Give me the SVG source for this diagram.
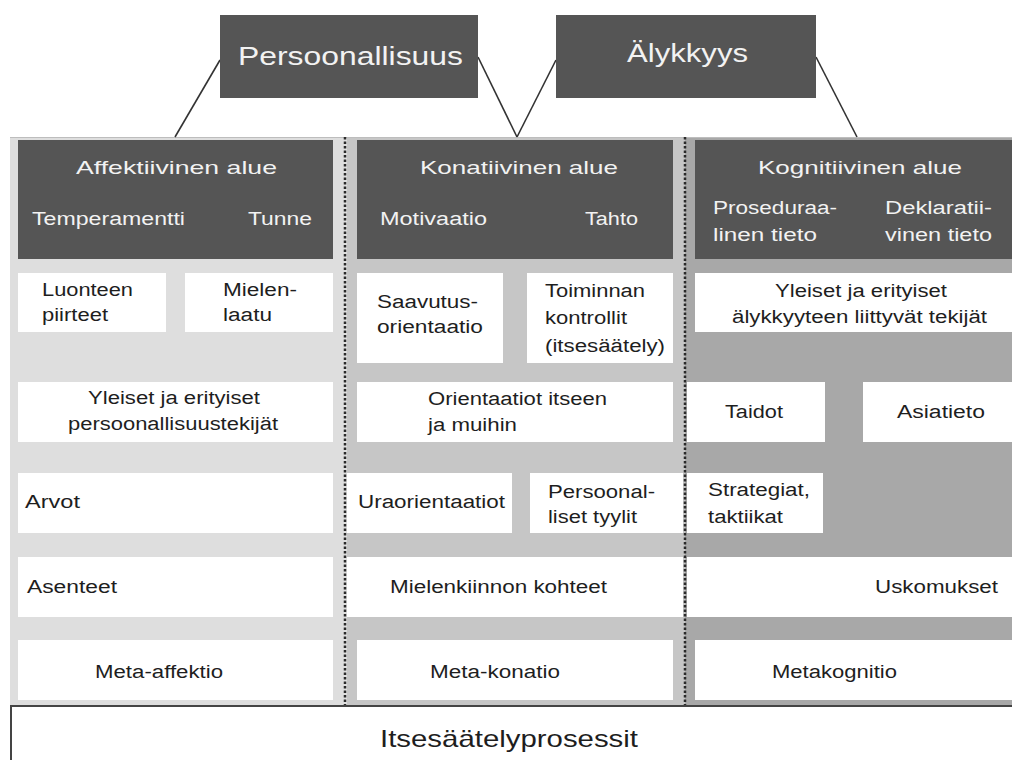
<svg xmlns="http://www.w3.org/2000/svg" width="1012" height="760" viewBox="0 0 1012 760">
<style>
.dark{fill:#555555}
.box{fill:#ffffff}
.ht{font-family:"Liberation Sans",Arial,sans-serif;font-size:19px;fill:#f2f2f2}
.st{font-family:"Liberation Sans",Arial,sans-serif;font-size:18px;fill:#f2f2f2}
.top{font-family:"Liberation Sans",Arial,sans-serif;font-size:25px;fill:#f2f2f2}
.t{font-family:"Liberation Sans",Arial,sans-serif;font-size:18px;fill:#1e1e1e}
.big{font-family:"Liberation Sans",Arial,sans-serif;font-size:24px;fill:#1e1e1e}
.dot{stroke:#2a2a2a;stroke-width:2.5;stroke-dasharray:2.5 2;fill:none}
.con{stroke:#333333;stroke-width:1.6;fill:none}
</style>
<rect x="0" y="0" width="1012" height="760" fill="#ffffff"/>
<g id="background">
<rect x="10" y="137" width="337" height="570" fill="#dedede"/>
<rect x="347" y="137" width="338" height="570" fill="#c6c6c6"/>
<rect x="685" y="137" width="327" height="570" fill="#a8a8a8"/>
<line x1="10" y1="137.5" x2="1012" y2="137.5" stroke="#bdbdbd" stroke-width="1"/>
<line class="dot" x1="345" y1="137" x2="345" y2="706"/>
<line class="dot" x1="685" y1="137" x2="685" y2="706"/>
</g>
<g id="connectors">
<line class="con" x1="220" y1="60" x2="175" y2="137"/>
<line class="con" x1="478" y1="57" x2="517" y2="137"/>
<line class="con" x1="556" y1="60" x2="517" y2="137"/>
<line class="con" x1="816" y1="57" x2="857" y2="137"/>
</g>
<g id="persoonallisuus">
<rect class="dark" x="220" y="15" width="258" height="83"/>
<text class="top" x="238" y="65" textLength="225" lengthAdjust="spacingAndGlyphs">Persoonallisuus</text>
</g>
<g id="alykkyys">
<rect class="dark" x="556" y="15" width="260" height="83"/>
<text class="top" x="627" y="62" textLength="121" lengthAdjust="spacingAndGlyphs">Älykkyys</text>
</g>
<g id="affektiivinen">
<rect class="dark" x="18" y="140" width="315" height="119"/>
<text class="ht" x="76" y="174" textLength="201" lengthAdjust="spacingAndGlyphs">Affektiivinen alue</text>
<text class="st" x="32" y="225" textLength="153" lengthAdjust="spacingAndGlyphs">Temperamentti</text>
<text class="st" x="248" y="225" textLength="64" lengthAdjust="spacingAndGlyphs">Tunne</text>
</g>
<g id="konatiivinen">
<rect class="dark" x="357" y="140" width="316" height="119"/>
<text class="ht" x="420" y="174" textLength="198" lengthAdjust="spacingAndGlyphs">Konatiivinen alue</text>
<text class="st" x="380" y="225" textLength="107" lengthAdjust="spacingAndGlyphs">Motivaatio</text>
<text class="st" x="585" y="225" textLength="53" lengthAdjust="spacingAndGlyphs">Tahto</text>
</g>
<g id="kognitiivinen">
<rect class="dark" x="695" y="140" width="317" height="119"/>
<text class="ht" x="758" y="174" textLength="204" lengthAdjust="spacingAndGlyphs">Kognitiivinen alue</text>
<text class="st" x="713" y="214" textLength="124" lengthAdjust="spacingAndGlyphs">Proseduraa-</text>
<text class="st" x="713" y="241" textLength="104" lengthAdjust="spacingAndGlyphs">linen tieto</text>
<text class="st" x="885" y="214" textLength="107" lengthAdjust="spacingAndGlyphs">Deklaratii-</text>
<text class="st" x="885" y="241" textLength="107" lengthAdjust="spacingAndGlyphs">vinen tieto</text>
</g>
<g id="luonteen-piirteet">
<rect class="box" x="18" y="273" width="148" height="59"/>
<text class="t" x="42" y="296" textLength="91" lengthAdjust="spacingAndGlyphs">Luonteen</text>
<text class="t" x="42" y="321" textLength="66" lengthAdjust="spacingAndGlyphs">piirteet</text>
</g>
<g id="mielenlaatu">
<rect class="box" x="185" y="273" width="148" height="59"/>
<text class="t" x="223" y="296" textLength="74" lengthAdjust="spacingAndGlyphs">Mielen-</text>
<text class="t" x="223" y="321" textLength="49" lengthAdjust="spacingAndGlyphs">laatu</text>
</g>
<g id="saavutusorientaatio">
<rect class="box" x="357" y="273" width="146" height="90"/>
<text class="t" x="377" y="308" textLength="101" lengthAdjust="spacingAndGlyphs">Saavutus-</text>
<text class="t" x="377" y="333" textLength="106" lengthAdjust="spacingAndGlyphs">orientaatio</text>
</g>
<g id="toiminnan-kontrollit">
<rect class="box" x="527" y="273" width="146" height="90"/>
<text class="t" x="545" y="297" textLength="100" lengthAdjust="spacingAndGlyphs">Toiminnan</text>
<text class="t" x="545" y="324" textLength="82" lengthAdjust="spacingAndGlyphs">kontrollit</text>
<text class="t" x="545" y="352" textLength="120" lengthAdjust="spacingAndGlyphs">(itsesäätely)</text>
</g>
<g id="alykkyystekijat">
<rect class="box" x="695" y="273" width="317" height="59"/>
<text class="t" x="775" y="297" textLength="172" lengthAdjust="spacingAndGlyphs">Yleiset ja erityiset</text>
<text class="t" x="732" y="323" textLength="255" lengthAdjust="spacingAndGlyphs">älykkyyteen liittyvät tekijät</text>
</g>
<g id="persoonallisuustekijat">
<rect class="box" x="18" y="382" width="315" height="60"/>
<text class="t" x="88" y="404" textLength="172" lengthAdjust="spacingAndGlyphs">Yleiset ja erityiset</text>
<text class="t" x="68" y="430" textLength="210" lengthAdjust="spacingAndGlyphs">persoonallisuustekijät</text>
</g>
<g id="orientaatiot">
<rect class="box" x="357" y="382" width="316" height="60"/>
<text class="t" x="428" y="405" textLength="179" lengthAdjust="spacingAndGlyphs">Orientaatiot itseen</text>
<text class="t" x="428" y="431" textLength="89" lengthAdjust="spacingAndGlyphs">ja muihin</text>
</g>
<g id="taidot">
<rect class="box" x="687" y="382" width="138" height="60"/>
<text class="t" x="725" y="418" textLength="58" lengthAdjust="spacingAndGlyphs">Taidot</text>
</g>
<g id="asiatieto">
<rect class="box" x="863" y="382" width="149" height="60"/>
<text class="t" x="897" y="418" textLength="88" lengthAdjust="spacingAndGlyphs">Asiatieto</text>
</g>
<g id="arvot">
<rect class="box" x="18" y="473" width="315" height="60"/>
<text class="t" x="25" y="508" textLength="55" lengthAdjust="spacingAndGlyphs">Arvot</text>
</g>
<g id="uraorientaatiot">
<rect class="box" x="347" y="473" width="165" height="60"/>
<text class="t" x="358" y="508" textLength="147" lengthAdjust="spacingAndGlyphs">Uraorientaatiot</text>
</g>
<g id="persoonalliset-tyylit">
<rect class="box" x="530" y="473" width="153" height="60"/>
<text class="t" x="548" y="498" textLength="107" lengthAdjust="spacingAndGlyphs">Persoonal-</text>
<text class="t" x="548" y="523" textLength="89" lengthAdjust="spacingAndGlyphs">liset tyylit</text>
</g>
<g id="strategiat">
<rect class="box" x="687" y="473" width="136" height="60"/>
<text class="t" x="708" y="496" textLength="102" lengthAdjust="spacingAndGlyphs">Strategiat,</text>
<text class="t" x="708" y="523" textLength="75" lengthAdjust="spacingAndGlyphs">taktiikat</text>
</g>
<g id="asenteet">
<rect class="box" x="18" y="557" width="315" height="60"/>
<text class="t" x="27" y="593" textLength="90" lengthAdjust="spacingAndGlyphs">Asenteet</text>
</g>
<g id="mielenkiinnon-kohteet">
<rect class="box" x="347" y="557" width="336" height="60"/>
<text class="t" x="390" y="593" textLength="217" lengthAdjust="spacingAndGlyphs">Mielenkiinnon kohteet</text>
</g>
<g id="uskomukset">
<rect class="box" x="687" y="557" width="325" height="60"/>
<text class="t" x="875" y="593" textLength="123" lengthAdjust="spacingAndGlyphs">Uskomukset</text>
</g>
<g id="meta-affektio">
<rect class="box" x="18" y="640" width="315" height="60"/>
<text class="t" x="95" y="678" textLength="128" lengthAdjust="spacingAndGlyphs">Meta-affektio</text>
</g>
<g id="meta-konatio">
<rect class="box" x="357" y="640" width="316" height="60"/>
<text class="t" x="430" y="678" textLength="130" lengthAdjust="spacingAndGlyphs">Meta-konatio</text>
</g>
<g id="metakognitio">
<rect class="box" x="695" y="640" width="317" height="60"/>
<text class="t" x="772" y="678" textLength="125" lengthAdjust="spacingAndGlyphs">Metakognitio</text>
</g>
<g id="itsesaatelyprosessit">
<rect x="11" y="706" width="1010" height="60" fill="#ffffff" stroke="#444444" stroke-width="2"/>
<text class="big" x="380" y="747" textLength="258" lengthAdjust="spacingAndGlyphs">Itsesäätelyprosessit</text>
</g>
</svg>
